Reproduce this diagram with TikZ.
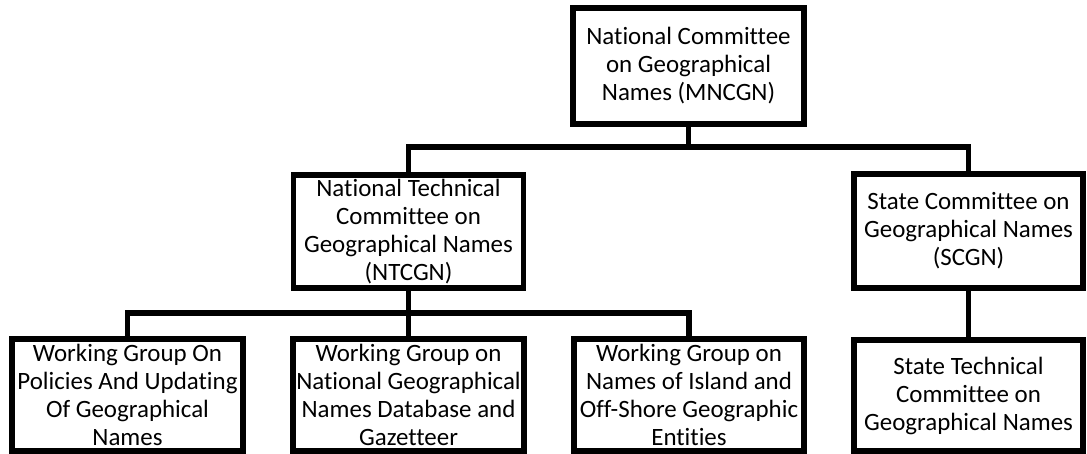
\documentclass[tikz,border=0pt]{standalone}
\usepackage{fontspec}
\setmainfont{Carlito}[Ligatures={NoCommon}]
\begin{document}
\begin{tikzpicture}[x=0.75pt,y=-0.75pt,
  orgbox/.style={draw=black, line width=3.9pt, fill=white, rectangle, inner sep=0pt,
    align=center, font=\fontsize{18.7}{21}\selectfont, line join=miter},
  link/.style={draw=black, line width=3.9pt, line join=miter, line cap=rect}]
\useasboundingbox (0,0) rectangle (1087,453);
% boxes (centres from pixel extents)
\node[orgbox, minimum width=231*0.75pt, minimum height=116*0.75pt] (top) at (688.5,66)
  {National Committee\\on Geographical\\Names (MNCGN)};
\node[orgbox, minimum width=230*0.75pt, minimum height=113*0.75pt] (ntc) at (408.5,231.5)
  {National Technical\\Committee on\\Geographical Names\\(NTCGN)};
\node[orgbox, minimum width=229*0.75pt, minimum height=114*0.75pt] (scg) at (968.5,231)
  {State Committee on\\Geographical Names\\(SCGN)};
\node[orgbox, minimum width=231*0.75pt, minimum height=112*0.75pt] (wg1) at (127.5,395)
  {Working Group On\\Policies And Updating\\Of Geographical\\Names};
\node[orgbox, minimum width=231*0.75pt, minimum height=112*0.75pt] (wg2) at (408.5,395)
  {Working Group on\\National Geographical\\Names Database and\\Gazetteer};
\node[orgbox, minimum width=230*0.75pt, minimum height=112*0.75pt] (wg3) at (689,395)
  {Working Group on\\Names of Island and\\Off-Shore Geographic\\Entities};
\node[orgbox, minimum width=229*0.75pt, minimum height=111*0.75pt] (stc) at (968.5,395.5)
  {State Technical\\Committee on\\Geographical Names};
% bus levels
\coordinate (busA) at (0,147);
\coordinate (busB) at (0,313);
% connectors
\draw[link] (top.south) -- (top.south |- busA);
\draw[link] (ntc.north) -- (ntc.north |- busA) -- (scg.north |- busA) -- (scg.north);
\draw[link] (ntc.south) -- (wg2.north);
\draw[link] (wg1.north) -- (wg1.north |- busB) -- (wg3.north |- busB) -- (wg3.north);
\draw[link] (scg.south) -- (stc.north);
\end{tikzpicture}
\end{document}
